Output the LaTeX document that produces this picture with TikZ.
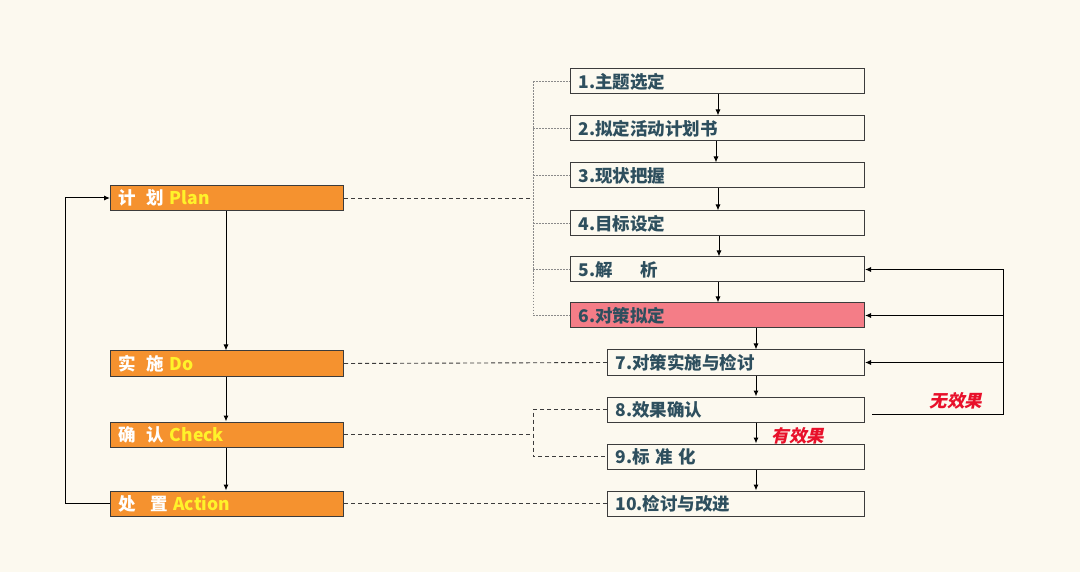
\documentclass[tikz,border=0pt]{standalone}
\usepackage{fontspec}
\usetikzlibrary{arrows.meta,calc}
\newfontfamily\cjk{Noto Sans CJK SC}[BoldFont={Noto Sans CJK SC Black}]
\newfontfamily\cjkit{Noto Sans CJK SC Black}[FakeSlant=0.22]
\definecolor{bgc}{HTML}{FCF9EF}
\definecolor{orangec}{HTML}{F5922F}
\definecolor{pinkc}{HTML}{F47D87}
\definecolor{edgec}{HTML}{3C3C3C}
\definecolor{tealc}{HTML}{2E4F5E}
\definecolor{yellowc}{HTML}{FFF22A}
\definecolor{redc}{HTML}{E8102A}
\definecolor{dotc}{HTML}{8A8A8A}
\tikzset{
  pbox/.style={draw=edgec, line width=1pt, fill=orangec, minimum height=25pt, inner xsep=8pt, inner ysep=0pt,
    text width=217pt, align=left, anchor=west, font=\cjk\bfseries\fontsize{17.5}{20}\selectfont, text=white},
  abox/.style={draw=edgec, line width=1pt, fill=bgc, minimum height=25pt, inner xsep=8pt, inner ysep=0pt,
    text width=278pt, align=left, anchor=west, font=\cjk\bfseries\fontsize{17.5}{20}\selectfont, text=tealc},
  bbox/.style={abox, text width=241pt},
  arr/.style={draw=black, line width=1pt, -{Latex[length=6pt,width=5pt]}},
  dline/.style={draw=edgec, line width=0.9pt, dash pattern=on 4pt off 3pt},
  dotline/.style={draw=dotc, line width=0.8pt, dash pattern=on 1.5pt off 1.5pt},
  lab/.style={font=\cjkit\fontsize{17.5}{20}\selectfont, text=redc},
}
\begin{document}
\begin{tikzpicture}[x=1pt,y=-1pt]
\fill[bgc] (0,0) rectangle (1080,572);
\useasboundingbox (0,0) rectangle (1080,572);
% left PDCA boxes
\node[pbox] (plan) at (110,198) {计\hspace{0.6em}划 \textcolor{yellowc}{Plan}};
\node[pbox] (do) at (110,363.5) {实\hspace{0.6em}施 \textcolor{yellowc}{Do}};
\node[pbox] (chk) at (110,434.5) {确\hspace{0.6em}认 \textcolor{yellowc}{Check}};
\node[pbox] (act) at (110,503.5) {处\hspace{0.8em}置 \textcolor{yellowc}{Action}};
% right steps
\node[abox] (b1) at (570,81.5) {1.主题选定};
\node[abox] (b2) at (570,128.5) {2.拟定活动计划书};
\node[abox] (b3) at (570,175.5) {3.现状把握};
\node[abox] (b4) at (570,223.5) {4.目标设定};
\node[abox] (b5) at (570,269.5) {5.解\hspace{1.6em}析};
\node[abox, fill=pinkc] (b6) at (570,315.5) {6.对策拟定};
\node[bbox] (b7) at (607,362.5) {7.对策实施与检讨};
\node[bbox] (b8) at (607,409.5) {8.效果确认};
\node[bbox] (b9) at (607,456.5) {9.标 准 化};
\node[bbox] (b10) at (607,503.5) {10.检讨与改进};
% labels
\node[lab] (nox) at (956,401) {无效果};
\node[lab] (yes) at (798,436) {有效果};
% coordinates
\coordinate (L) at (65,0);
\coordinate (bx) at (533,0);
\coordinate (fbs) at (872,414);
\coordinate (fbx) at (1003,0);
% left vertical arrows
\draw[arr] ($(plan.south west)+(116,0)$) -- ($(do.north west)+(116,0)$);
\draw[arr] ($(do.south west)+(116,0)$) -- ($(chk.north west)+(116,0)$);
\draw[arr] ($(chk.south west)+(116,0)$) -- ($(act.north west)+(116,0)$);
% left loop
\draw[arr] (act.west) -- (act.west -| L) -- (plan.west -| L) -- (plan.west);
% right vertical arrows
\draw[arr] ($(b1.south west)+(148,0)$) -- ($(b2.north west)+(148,0)$);
\draw[arr] ($(b2.south west)+(146,0)$) -- ($(b3.north west)+(146,0)$);
\draw[arr] ($(b3.south west)+(148,0)$) -- ($(b4.north west)+(148,0)$);
\draw[arr] ($(b4.south west)+(149,0)$) -- ($(b5.north west)+(149,0)$);
\draw[arr] ($(b5.south west)+(148,0)$) -- ($(b6.north west)+(148,0)$);
\draw[arr] ($(b6.south west)+(186,0)$) -- ($(b7.north west)+(149,0)$);
\draw[arr] ($(b7.south west)+(149,0)$) -- ($(b8.north west)+(149,0)$);
\draw[arr] ($(b8.south west)+(149,0)$) -- ($(b9.north west)+(149,0)$);
\draw[arr] ($(b9.south west)+(149,0)$) -- ($(b10.north west)+(149,0)$);
% feedback loop
\draw[arr] (fbs) -- (fbs -| fbx) -- (b5.east -| fbx) -- (b5.east);
\draw[arr] (b6.east -| fbx) -- (b6.east);
\draw[arr] (b7.east -| fbx) -- (b7.east);
% plan bracket
\draw[dline] (plan.east) -- (plan.east -| bx);
\draw[dotline] (b1.west -| bx) -- (b6.west -| bx);
\foreach \b in {b1,b2,b3,b4,b5,b6} \draw[dotline] (\b.west -| bx) -- (\b.west);
% do / action
\draw[dline] (do.east) -- (b7.west);
\draw[dline] (act.east) -- (b10.west);
% check bracket
\draw[dline] (chk.east) -- (chk.east -| bx);
\draw[dline] (b8.west) -- (b8.west -| bx) -- (b9.west -| bx) -- (b9.west);
\end{tikzpicture}
\end{document}
